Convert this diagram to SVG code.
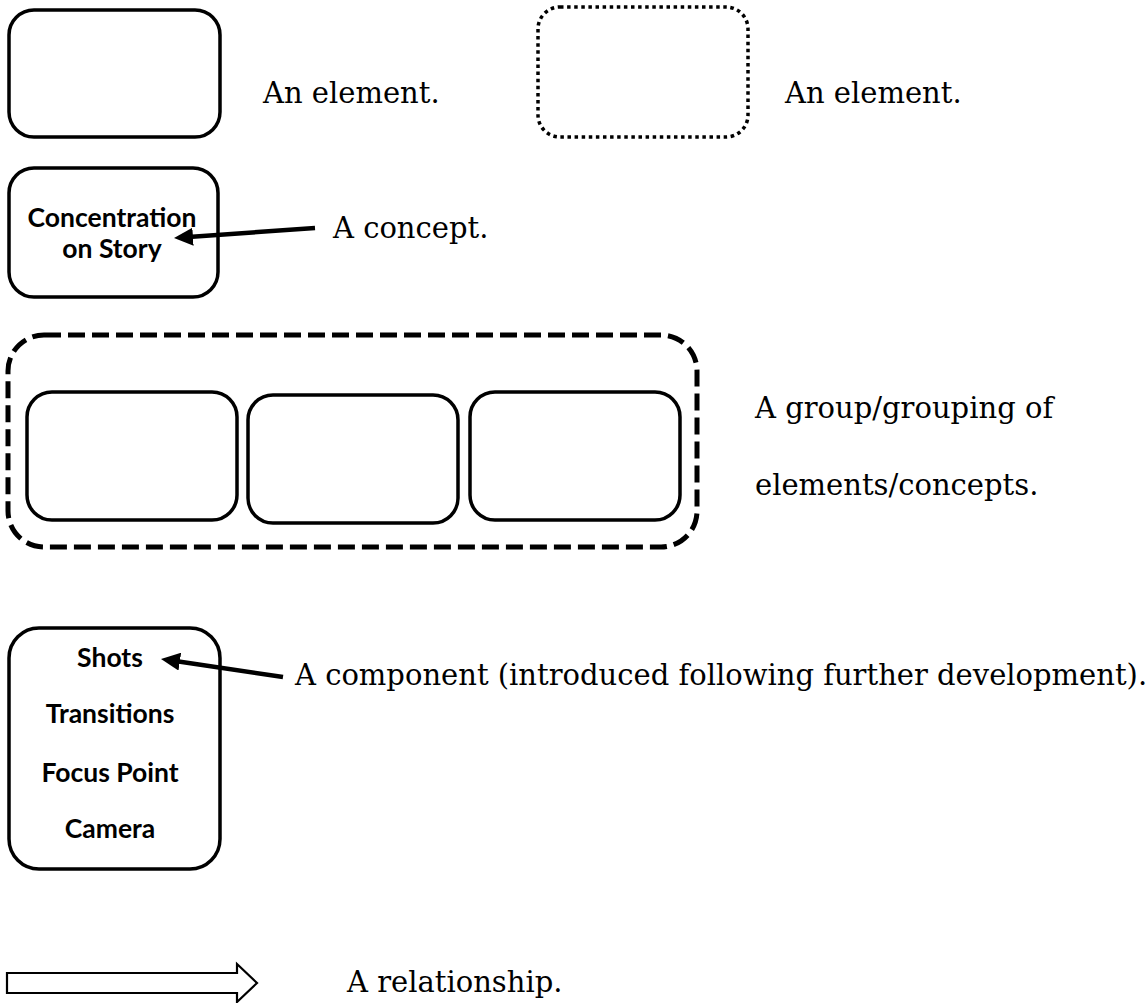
<svg xmlns="http://www.w3.org/2000/svg" width="1147" height="1003" viewBox="0 0 1147 1003">
  <style>
    .box{fill:#fff;stroke:#000;stroke-width:3.5}
    .dotted{fill:none;stroke:#000;stroke-width:3.5;stroke-dasharray:3.5 3.6}
    .dashed{fill:none;stroke:#000;stroke-width:5;stroke-dasharray:17 7}
    .note{font-family:"DejaVu Serif","Liberation Serif",serif;font-size:29px;fill:#000}
    .lbl{font-family:Lato,"Open Sans",sans-serif;font-weight:bold;font-size:26.5px;text-anchor:middle;fill:#000}
    .ptr{stroke:#000;stroke-width:4.5;fill:none;marker-end:url(#head)}
    .block{fill:#fff;stroke:#000;stroke-width:2.2;stroke-linejoin:miter}
  </style>
  <defs>
    <!-- solid triangular pointer head; tip sits 10 units past the path end -->
    <marker id="head" markerUnits="userSpaceOnUse" markerWidth="22" markerHeight="18" refX="8" refY="9" orient="auto">
      <path d="M0,0 L19,9 L0,18 z" fill="#000"/>
    </marker>
  </defs>

  <!-- legend: plain element -->
  <g id="element">
    <rect class="box" x="9" y="10" width="211" height="127" rx="25"/>
  </g>
  <!-- legend: dotted element -->
  <g id="element-dotted">
    <rect class="dotted" x="538" y="7" width="210" height="130" rx="22"/>
  </g>
  <!-- legend: concept -->
  <g id="concept">
    <rect class="box" x="9" y="168" width="209" height="129" rx="25"/>
    <text class="lbl" x="112" y="227">Concentration</text>
    <text class="lbl" x="112" y="258">on Story</text>
  </g>
  <!-- legend: grouping -->
  <g id="group">
    <rect class="dashed" x="8" y="335" width="689" height="212" rx="36"/>
    <rect class="box" x="27" y="392" width="210" height="128" rx="25"/>
    <rect class="box" x="248" y="395" width="210" height="128" rx="25"/>
    <rect class="box" x="470" y="392" width="210" height="128" rx="25"/>
  </g>
  <!-- legend: components -->
  <g id="component">
    <rect class="box" x="9" y="628" width="211" height="241" rx="30"/>
    <text class="lbl" x="110" y="667">Shots</text>
    <text class="lbl" x="110" y="723">Transitions</text>
    <text class="lbl" x="110" y="782">Focus Point</text>
    <text class="lbl" x="110" y="838">Camera</text>
  </g>
  <!-- legend: relationship arrow -->
  <g id="relationship">
    <polygon class="block" points="7,973 237,973 237,964 257,983 237,1002 237,993 7,993"/>
  </g>

  <!-- pointers from captions -->
  <g id="connectors">
    <path class="ptr" d="M315,228 L185,237.3"/>
    <path class="ptr" d="M283,677 L171.9,660.5"/>
  </g>

  <!-- captions -->
  <g id="captions">
    <text class="note" x="263" y="103">An element.</text>
    <text class="note" x="785" y="103">An element.</text>
    <text class="note" x="333" y="238">A concept.</text>
    <text class="note" x="755" y="418">A group/grouping of</text>
    <text class="note" x="755" y="495">elements/concepts.</text>
    <text class="note" x="295" y="685">A component (introduced following further development).</text>
    <text class="note" x="347" y="992">A relationship.</text>
  </g>
</svg>
